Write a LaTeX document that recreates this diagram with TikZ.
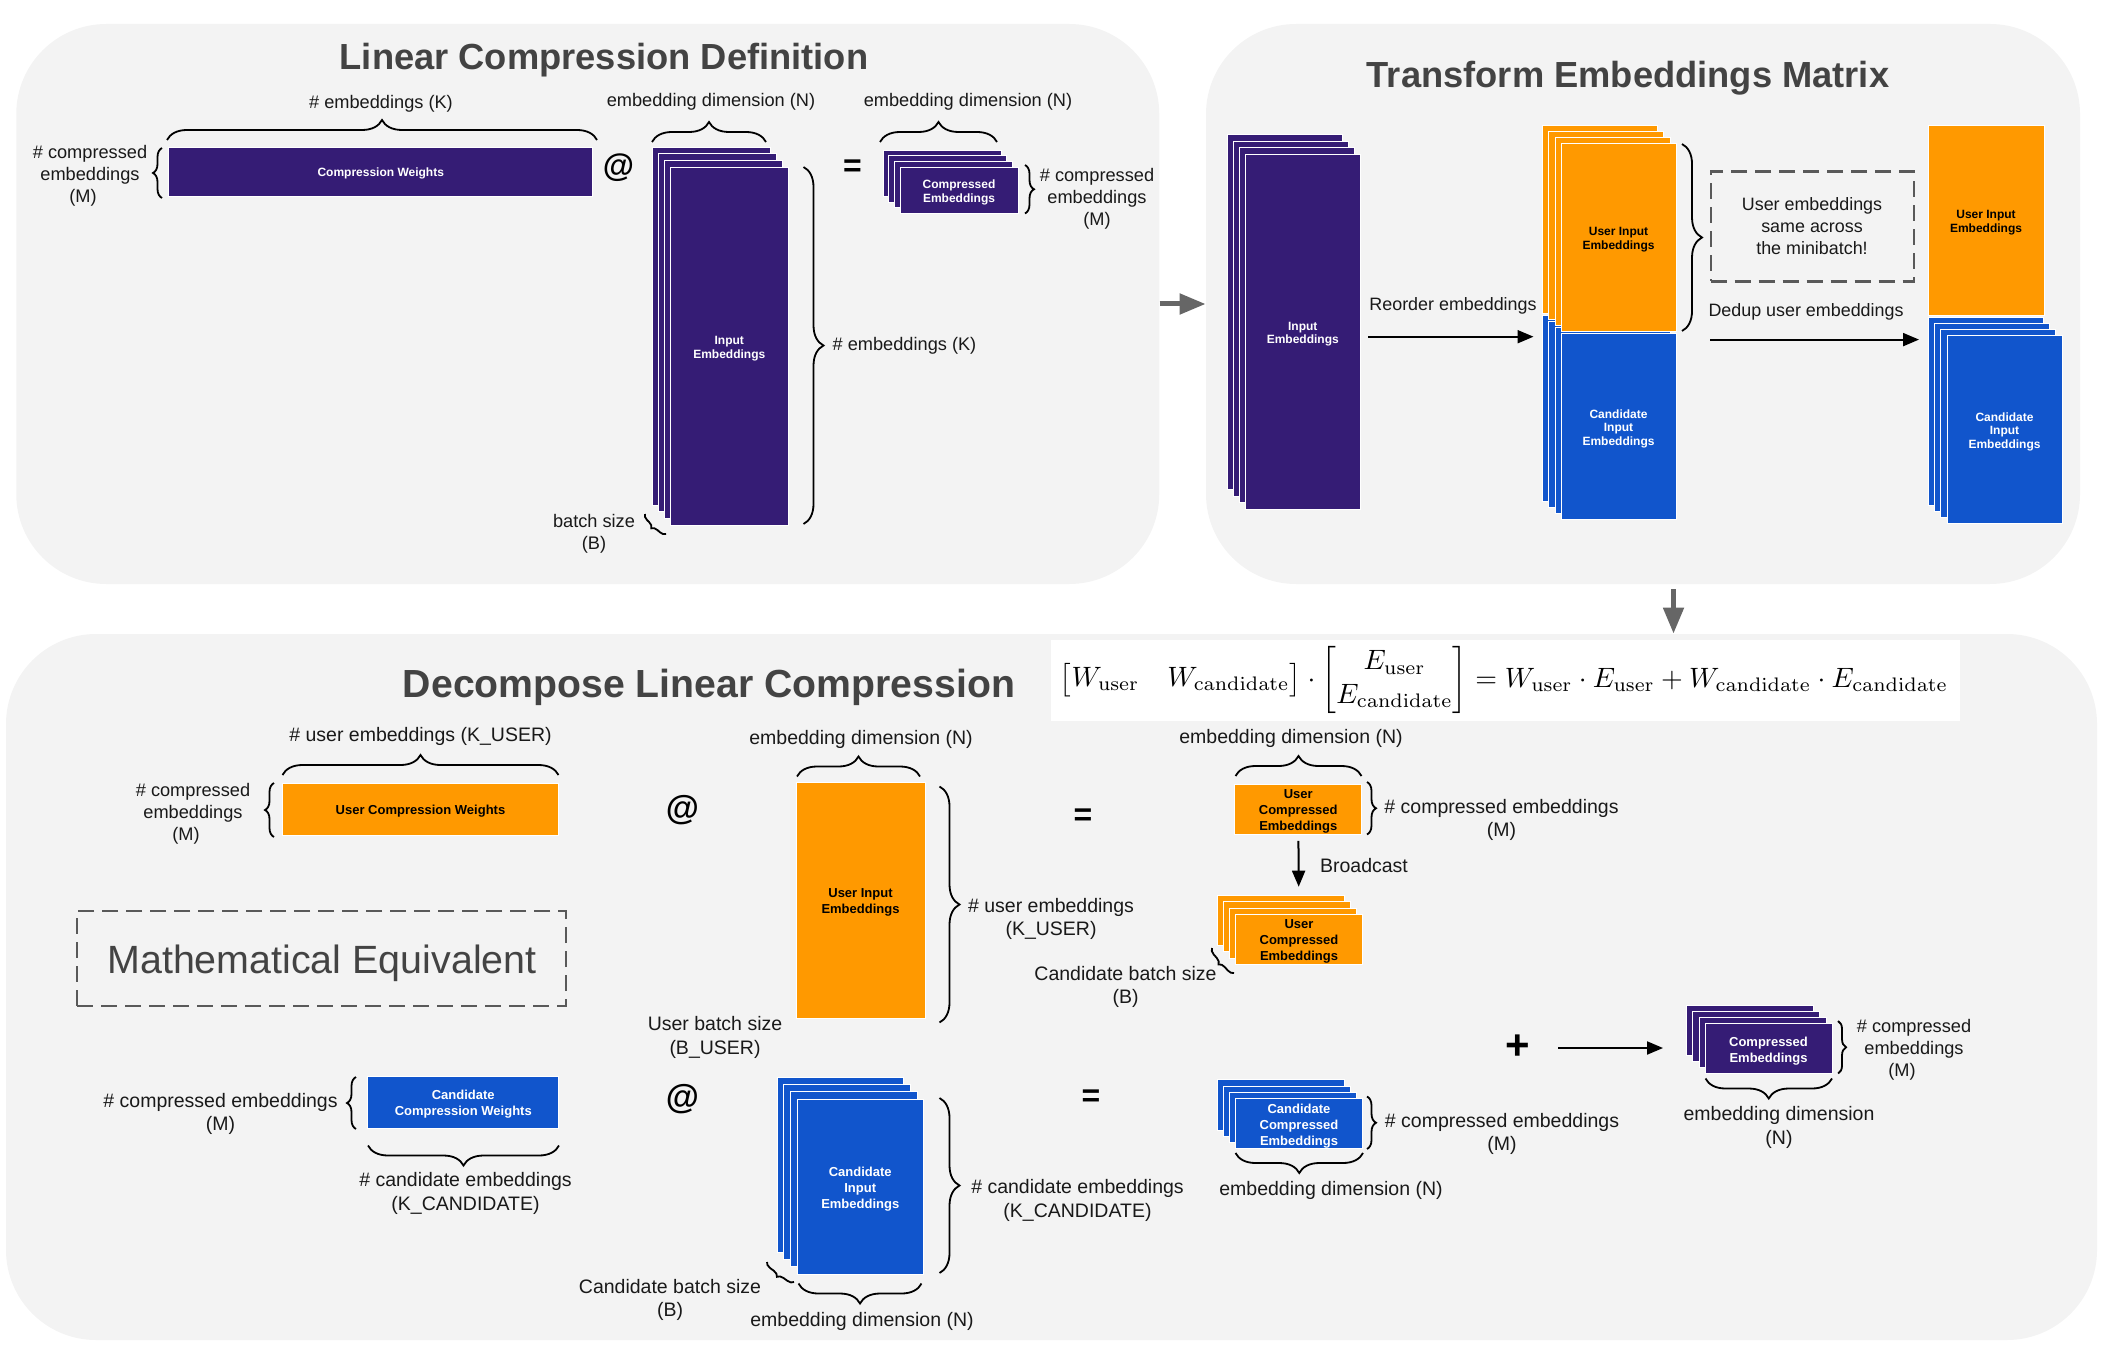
\documentclass[tikz,border=0pt]{standalone}
\usepackage{amsmath}
\usepackage[no-math]{fontspec}
\setmainfont{Liberation Sans}
\usepackage{tikz}
\usetikzlibrary{arrows.meta,positioning,calc,decorations.pathreplacing}

\definecolor{purp}{HTML}{351C75}
\definecolor{orng}{HTML}{FF9900}
\definecolor{blu}{HTML}{1155CC}
\definecolor{panelgray}{HTML}{F3F3F3}
\definecolor{inkgray}{HTML}{434343}
\definecolor{flowgray}{HTML}{666666}
\definecolor{dashgray}{HTML}{595959}
\newcommand{\dn}{\rule{0pt}{1.1em}}

\begin{document}
\begin{tikzpicture}[x=0.5pt, y=-0.5pt]
    % Define styles
    \tikzset{
        panel/.style={fill=panelgray, rectangle, rounded corners=45pt, inner sep=0pt},
        title/.style={font=\fontsize{18.15}{22}\selectfont\bfseries, text=inkgray},
        tile/.style={draw=white, line width=0.3pt, rectangle, inner sep=0pt, align=center, font=\fontsize{6}{6.8}\selectfont\bfseries},
        tilebig/.style={tile, font=\fontsize{6.5}{8}\selectfont\bfseries},
        lbl/.style={align=center, inner sep=0pt, yshift=-0.7pt, font=\fontsize{9.1}{11}\selectfont, text=black!90},
        lblmid/.style={lbl, font=\fontsize{8.95}{11}\selectfont},
        lblbig/.style={lbl, font=\fontsize{9.75}{11.8}\selectfont},
        curly/.style={decorate, decoration={brace, amplitude=#1}, line width=0.9pt},
        curly/.default=10pt,
        arrow/.style={-{Triangle[length=8pt,width=6.5pt]}, line width=1pt},
        flow/.style={-{Triangle[length=13pt,width=10pt]}, line width=2.5pt, draw=flowgray},
        note/.style={draw=dashgray, line width=1.2pt, dash pattern=on 8pt off 4pt, rectangle, inner sep=0pt, align=center},
        sign/.style={inner sep=0pt, font=\fontsize{16}{18}\selectfont\bfseries}
    }
    \useasboundingbox (0,0) rectangle (2112,1358);

    % Place panels
    \node[panel, minimum width=571.5pt, minimum height=280pt] (defpanel) at (587.75,304) {};
    \node[panel, minimum width=437pt, minimum height=280pt] (transpanel) at (1643,304) {};
    \node[panel, minimum width=1045.5pt, minimum height=353pt] (decomppanel) at (1051.5,987) {};
    \node[title] (deftitle) at (604,60) {Linear Compression Definition};
    \node[title] (transtitle) at (1628,78) {Transform Embeddings Matrix};
    \node[title, font=\fontsize{19.6}{22}\selectfont\bfseries] (decomptitle) at (709,687) {Decompose Linear Compression};

    % Back layers of every stack: x1/y1/x2/y2/dx/dy/colour of the front one
    \foreach \xa/\ya/\xb/\yb/\dx/\dy/\col in {
        670/167/788.5/525/6/6.7/purp,
        900/167/1018/213.5/5.7/5.7/purp,
        1245/154/1360.5/509/6/6.5/purp,
        1561/333.5/1676/519.6/6.2/6/blu,
        1561/143.7/1676/331/6.2/6/orng,
        1947/335.5/2062/523.7/6.3/6/blu,
        797/1099/923.5/1274/6.7/7.3/blu,
        1235.5/914/1362.4/964/6/6.2/orng,
        1235.5/1098.3/1362.4/1148.7/6/6.2/blu,
        1705/1023.7/1832/1073.6/6.2/6.2/purp}
        \foreach \i in {3,2,1}
            \draw[draw=white, line width=0.3pt, fill=\col] (\xa-\dx*\i,\ya-\dy*\i) rectangle (\xb-\dx*\i,\yb-\dy*\i);

    % Linear compression definition
    \node[tile, fill=purp, text=white, minimum width=212pt, minimum height=24.5pt] (weights) at (380.75,171.5) {\dn Compression Weights};
    \node[tile, fill=purp, text=white, minimum width=59.25pt, minimum height=179pt] (input) at (729.25,346) {\dn Input\\Embeddings};
    \node[tile, fill=purp, text=white, minimum width=59pt, minimum height=23.25pt] (compressed) at (959,190.25) {\dn Compressed\\Embeddings};
    \node[lbl] (weightsk) at (381,102.5) {\# embeddings (K)};
    \node[lbl] (weightsm) at (90,174) {\# compressed\\embeddings\\(M)\kern7pt};
    \node[lbl] (inputn) at (711,100) {embedding dimension (N)};
    \node[lbl] (compn) at (968,100) {embedding dimension (N)};
    \node[lbl] (inputk) at (904.5,344.5) {\# embeddings (K)};
    \node[lbl] (compm) at (1097,197) {\# compressed\\embeddings\\(M)};
    \node[lbl] (batch) at (594,532) {batch size\\(B)};
    \node[sign] (at1) at (618.5,168) {@};
    \node[sign] (eq1) at (852.5,168) {=};
    \draw[curly] (167,140) -- (597,140);
    \draw[curly] (652,142) -- (766,142);
    \draw[curly] (880,142) -- (997,142);
    \draw[curly=4.5pt] (162,198) -- (162,148);
    \draw[curly] (803.5,167) -- (803.5,524);
    \draw[curly=4.5pt] (1025,165) -- (1025,213.5);
    \draw[curly=3pt] (666,534) -- (645,514);

    % Transform embeddings matrix
    \node[tile, fill=purp, text=white, minimum width=57.75pt, minimum height=177.5pt] (inputb) at (1302.75,331.5) {\dn Input\\Embeddings};
    \node[tile, fill=blu, text=white, minimum width=57.5pt, minimum height=93pt] (cand) at (1618.5,426.5) {\dn Candidate\\Input\\Embeddings};
    \node[tile, fill=orng, text=black, minimum width=57.5pt, minimum height=93.6pt] (user) at (1618.5,237.4) {\dn User Input\\Embeddings};
    \node[tile, fill=orng, text=black, minimum width=58pt, minimum height=94.6pt] (userb) at (1986,220.4) {\dn User Input\\Embeddings};
    \node[tile, fill=blu, text=white, minimum width=57.5pt, minimum height=94pt] (candb) at (2004.5,429.6) {\dn Candidate\\Input\\Embeddings};
    \node[note, minimum width=101.6pt, minimum height=55pt] (same) at (1812.3,226.5) {};
    \node[lblmid] (sametxt) at (1812,225) {User embeddings\\same across\\the minibatch!};
    \node[lblmid] (reorder) at (1453,304) {Reorder embeddings};
    \node[lblmid] (dedup) at (1806,310) {Dedup user embeddings};
    \draw[curly] (1682,144) -- (1682,331);
    \coordinate (reorderin) at (1368,336.7);
    \coordinate (reorderout) at (1533.5,336.7);
    \coordinate (dedupin) at (1710,339.6);
    \coordinate (dedupout) at (1919,339.6);
    \draw[arrow] (reorderin) -- (reorderout);
    \draw[arrow] (dedupin) -- (dedupout);

    % Arrows between panels
    \coordinate (flowdown) at (1673.5,589);
    \draw[flow] (defpanel) -- (transpanel);
    \draw[flow] (flowdown) -- (decomppanel.north -| flowdown);

    % Formula
    \node[fill=white, minimum width=454.5pt, minimum height=40.5pt, inner sep=0pt] (formulabox) at (1505.5,680.5) {};
    \node[scale=1.4] (formula) at (1504,680) {$\begin{bmatrix} W_{\mathrm{user}} & W_{\mathrm{candidate}} \end{bmatrix} \cdot \begin{bmatrix} E_{\mathrm{user}} \\ E_{\mathrm{candidate}} \end{bmatrix} = W_{\mathrm{user}} \cdot E_{\mathrm{user}} + W_{\mathrm{candidate}} \cdot E_{\mathrm{candidate}}$};

    % User row
    \node[tilebig, fill=orng, text=black, minimum width=138pt, minimum height=26pt] (userw) at (420.5,809) {\dn User Compression Weights};
    \node[tilebig, fill=orng, text=black, minimum width=64.5pt, minimum height=118pt] (userin) at (860.5,900) {\dn User Input\\Embeddings};
    \node[tilebig, fill=orng, text=black, minimum width=63.5pt, minimum height=25pt] (usercomp) at (1298.25,809) {\dn User\\Compressed\\Embeddings};
    \node[tilebig, fill=orng, text=black, minimum width=63.5pt, minimum height=25pt] (userstack) at (1299,939) {\dn User\\Compressed\\Embeddings};
    \node[lblbig] (userk) at (420.5,735) {\# user embeddings (K\_USER)};
    \node[lbl] (userm) at (193,812) {\# compressed\\embeddings\\(M)\kern7pt};
    \node[lblbig] (userinn) at (861,738.5) {embedding dimension (N)};
    \node[lblbig] (userink) at (1051,917.5) {\# user embeddings\\(K\_USER)};
    \node[lblbig] (userbatch) at (715,1036) {User batch size\\(B\_USER)};
    \node[lblbig] (usercompn) at (1291,737.5) {embedding dimension (N)};
    \node[lblbig] (usercompm) at (1501.5,818.5) {\# compressed embeddings\\(M)};
    \node[lblbig] (broadcast) at (1364,864) {Broadcast};
    \node[lblbig] (userstackb) at (1125.5,985.5) {Candidate batch size\\(B)};
    \node[sign, font=\fontsize{17}{18}\selectfont\bfseries] (at2) at (682.5,810.5) {@};
    \node[sign] (eq2) at (1083,817) {=};
    \draw[curly] (282.5,775) -- (558.5,775);
    \draw[curly=4.5pt] (274,837) -- (274,783);
    \draw[curly] (797,776.5) -- (920,776.5);
    \draw[curly] (939.5,786.5) -- (939.5,1022.5);
    \draw[curly] (1235.5,776) -- (1361.5,776);
    \draw[curly=4.5pt] (1367,782) -- (1367,834.5);
    \draw[curly=3pt] (1234,973) -- (1212,948);
    \draw[arrow, shorten <=3.25pt, shorten >=13.5pt] (usercomp) -- (userstack);

    \node[note, minimum width=244.5pt, minimum height=47.5pt] (mathbox) at (321.5,958.5) {};
    \node[font=\fontsize{19.7}{22}\selectfont, text=inkgray] (mathtxt) at (322,963) {Mathematical Equivalent};

    % Candidate row
    \node[tilebig, fill=blu, text=white, minimum width=95.5pt, minimum height=26pt] (candw) at (463.25,1102) {\dn Candidate\\Compression Weights};
    \node[tilebig, fill=blu, text=white, minimum width=63.25pt, minimum height=87.5pt] (candin) at (860.25,1186.5) {\dn Candidate\\Input\\Embeddings};
    \node[tilebig, fill=blu, text=white, minimum width=63.5pt, minimum height=25.2pt] (candcomp) at (1299,1123.5) {\dn Candidate\\Compressed\\Embeddings};
    \node[lblbig] (candm) at (220.5,1112.5) {\# compressed embeddings\\(M)};
    \node[lblbig] (candk) at (465.5,1192) {\# candidate embeddings\\(K\_CANDIDATE)};
    \node[lblbig] (candink) at (1077.5,1199) {\# candidate embeddings\\(K\_CANDIDATE)};
    \node[lblbig] (candbatch) at (670,1298.5) {Candidate batch size\\(B)};
    \node[lblbig] (candinn) at (862,1320) {embedding dimension (N)};
    \node[lblbig] (candcompm) at (1502,1132.5) {\# compressed embeddings\\(M)};
    \node[lblbig] (candcompn) at (1331,1189.5) {embedding dimension (N)};
    \node[sign, font=\fontsize{17}{18}\selectfont\bfseries] (at3) at (682.5,1099.5) {@};
    \node[sign] (eq3) at (1091,1098) {=};
    \draw[curly=4.5pt] (356,1129) -- (356,1077);
    \draw[curly] (559,1145.5) -- (368,1145.5);
    \draw[curly] (939.5,1098) -- (939.5,1273);
    \draw[curly=3pt] (794,1282) -- (767,1262);
    \draw[curly] (921.5,1283.5) -- (798.5,1283.5);
    \draw[curly=4.5pt] (1367,1096.5) -- (1367,1149);
    \draw[curly] (1363,1153) -- (1235.5,1153);

    % Sum of both rows
    \node[tilebig, fill=purp, text=white, minimum width=63.5pt, minimum height=25pt] (sumcomp) at (1768.5,1048.7) {\dn Compressed\\Embeddings};
    \node[sign, font=\fontsize{21}{24}\selectfont\bfseries] (plus) at (1518,1047.5) {+};
    \coordinate (plusout) at (1558,1048);
    \coordinate (sumin) at (1663,1048);
    \draw[arrow] (plusout) -- (sumin);
    \node[lbl] (summ) at (1914,1048.5) {\# compressed\\embeddings\\(M)\kern12pt};
    \node[lblbig] (sumn) at (1779,1126) {embedding dimension\\(N)};
    \draw[curly=4pt] (1838,1021) -- (1838,1073.5);
    \draw[curly] (1832,1078.5) -- (1705.5,1078.5);
\end{tikzpicture}
\end{document}
